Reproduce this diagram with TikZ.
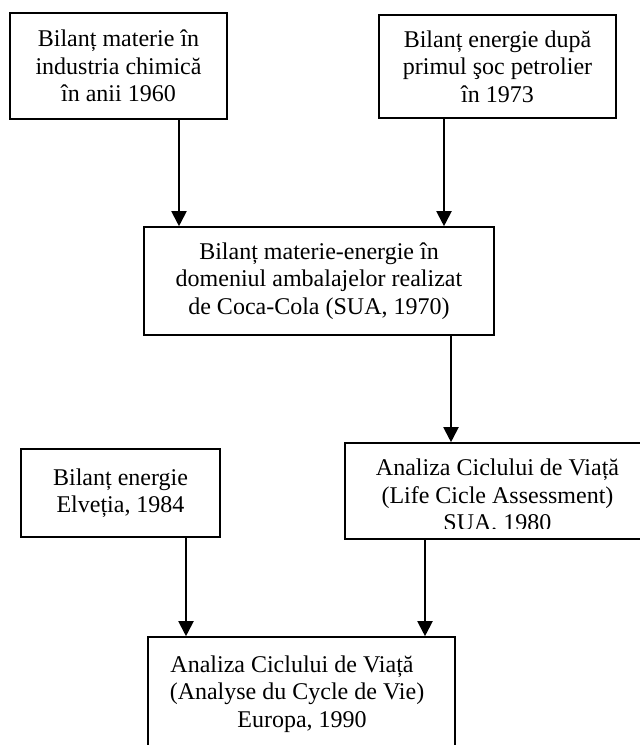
\documentclass[tikz,border=0pt]{standalone}
\usepackage{fontspec}
\setmainfont{Liberation Serif}
\usetikzlibrary{arrows.meta}
\begin{document}
\begin{tikzpicture}[x=1pt,y=-1pt,
  box/.style={draw, line width=1.6pt, rectangle, inner sep=0pt, align=center, font=\fontsize{24}{27.5}\selectfont},
  txt/.style={inner sep=0pt, align=center, font=\fontsize{24}{27.5}\selectfont},
  arr/.style={line width=2pt, -{Triangle[width=15pt,length=15pt]}}]
\useasboundingbox (0,0) rectangle (640,745);
\clip (0,0) rectangle (640,745);
\node[box, minimum width=217pt, minimum height=106pt] (b1) at (118.5,66) {Bilanț materie în\\industria chimică\\în anii 1960};
\node[box, minimum width=237pt, minimum height=103pt] (b2) at (497.5,66.5) {Bilanț energie după\\primul şoc petrolier\\în 1973};
\node[box, minimum width=350pt, minimum height=108pt] (b3) at (319,281) {Bilanț materie-energie în\\domeniul ambalajelor realizat\\de Coca-Cola (SUA, 1970)};
\node[box, minimum width=305pt, minimum height=96pt] (b4) at (497.5,491) {};
\node[box, minimum width=199pt, minimum height=88pt] (b5) at (120.5,493) {Bilanț energie\\Elveția, 1984};
\node[box, minimum width=307pt, minimum height=163pt] (b6) at (301.5,718.5) {};
\begin{scope}
\clip (345,443) rectangle (650,528.5);
\node[txt] (t4) at (497.5,497) {Analiza Ciclului de Viață\\(Life Cicle Assessment)\\SUA, 1980};
\end{scope}
\node[txt] (t6) at (297,694) {Analiza Ciclului de Viață\hspace*{10pt}\\(Analyse du Cycle de Vie)\\\hspace*{10pt}Europa, 1990};
\coordinate (x1) at (179,0);
\coordinate (x2) at (444,0);
\coordinate (x3) at (451,0);
\coordinate (x4) at (186,0);
\coordinate (x5) at (425,0);
\draw[arr] (b1.south -| x1) -- (b3.north -| x1);
\draw[arr] (b2.south -| x2) -- (b3.north -| x2);
\draw[arr] (b3.south -| x3) -- (b4.north -| x3);
\draw[arr] (b5.south -| x4) -- (b6.north -| x4);
\draw[arr] (b4.south -| x5) -- (b6.north -| x5);
\end{tikzpicture}
\end{document}
